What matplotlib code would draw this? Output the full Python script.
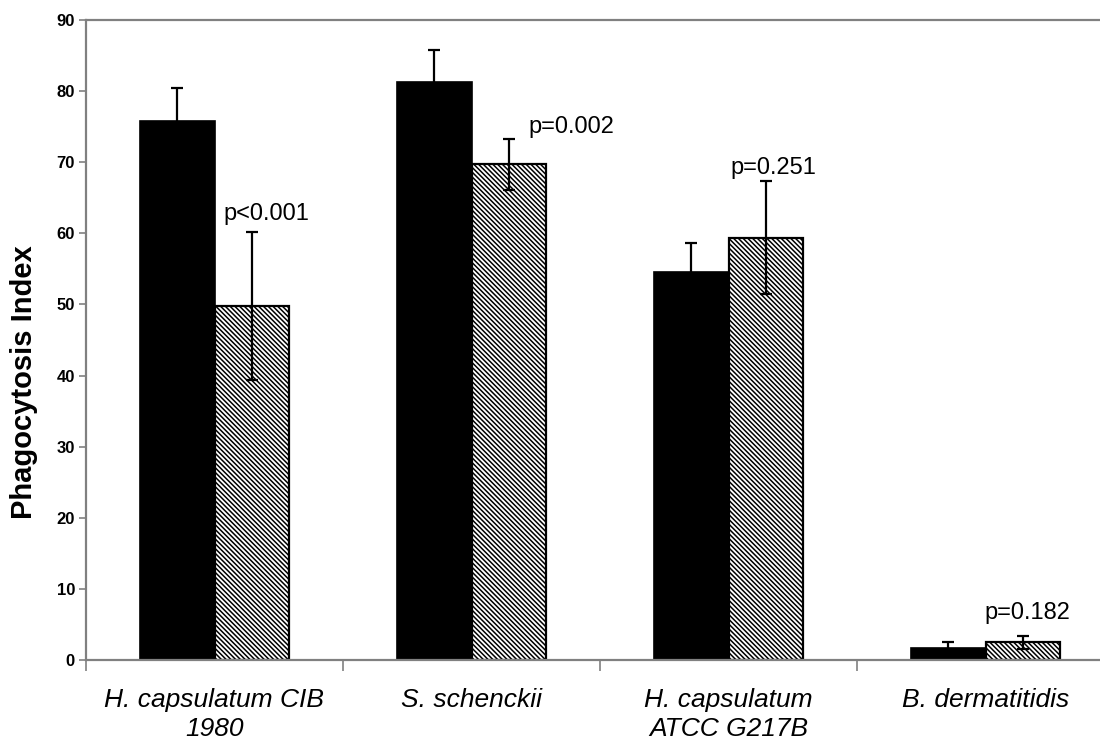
import numpy as np
import matplotlib
matplotlib.use("Agg")
import matplotlib.pyplot as plt

plt.rcParams['font.family'] = ['Liberation Sans', 'DejaVu Sans']
plt.rcParams['hatch.linewidth'] = 1.1

# data
strains = ["H. capsulatum CIB\n1980", "S. schenckii",
           "H. capsulatum\nATCC G217B", "B. dermatitidis"]
control = [75.8, 81.3, 54.5, 1.7]
control_err = [4.7, 4.5, 4.1, 0.9]
treated = [49.8, 69.7, 59.4, 2.5]
treated_err = [10.4, 3.6, 8.0, 0.9]
pvals = ["p<0.001", "p=0.002", "p=0.251", "p=0.182"]
# where the p-value labels sit (x in group units, y in data units)
p_x = [0.033, 1.22, 2.006, 2.994]
p_y = [61.9, 74.1, 68.4, 5.8]

fig = plt.figure(figsize=(11, 7.42), dpi=100)
ax = fig.add_axes([86/1100, 1 - 660/742, 1028/1100, 640/742])

x = np.arange(len(strains))
w = 0.29
ax.bar(x - w/2, control, w, color='black', edgecolor='black', linewidth=1.2)
ax.bar(x + w/2, treated, w, color='white', edgecolor='black', linewidth=1.6,
       hatch='\\' * 7)
err_kw = dict(fmt='none', ecolor='black', elinewidth=1.6, capsize=4, capthick=1.6)
ax.errorbar(x - w/2, control, yerr=control_err, **err_kw)
ax.errorbar(x + w/2, treated, yerr=treated_err, **err_kw)

for xi, yi, s in zip(p_x, p_y, pvals):
    ax.text(xi, yi, s, ha='left', va='baseline', fontsize=17)

ax.set_xlim(-0.5, 3.5)
ax.set_ylim(0, 90)
ax.set_yticks(np.arange(0, 91, 10))
ax.set_yticklabels([str(v) for v in range(0, 91, 10)], fontweight='bold', fontsize=12)

ax.set_xticks(x)
ax.set_xticklabels(strains, fontstyle='italic', fontsize=19, linespacing=1.25)
ax.set_xticks(np.arange(-0.5, 4, 1), minor=True)
ax.tick_params(axis='x', which='major', length=0, pad=20)
ax.tick_params(axis='x', which='minor', length=8, width=1.2, color='#808080', direction='out')
ax.tick_params(axis='y', length=5, width=1.2, color='#808080', pad=3)

for side in ['left', 'bottom', 'top', 'right']:
    ax.spines[side].set_color('#808080')
    ax.spines[side].set_linewidth(1.6)

fig.text(0.022, 1 - 382/742, "Phagocytosis Index", rotation=90, ha='center', va='center',
         fontsize=21, fontweight='bold')

fig.savefig("out.png", dpi=100)
